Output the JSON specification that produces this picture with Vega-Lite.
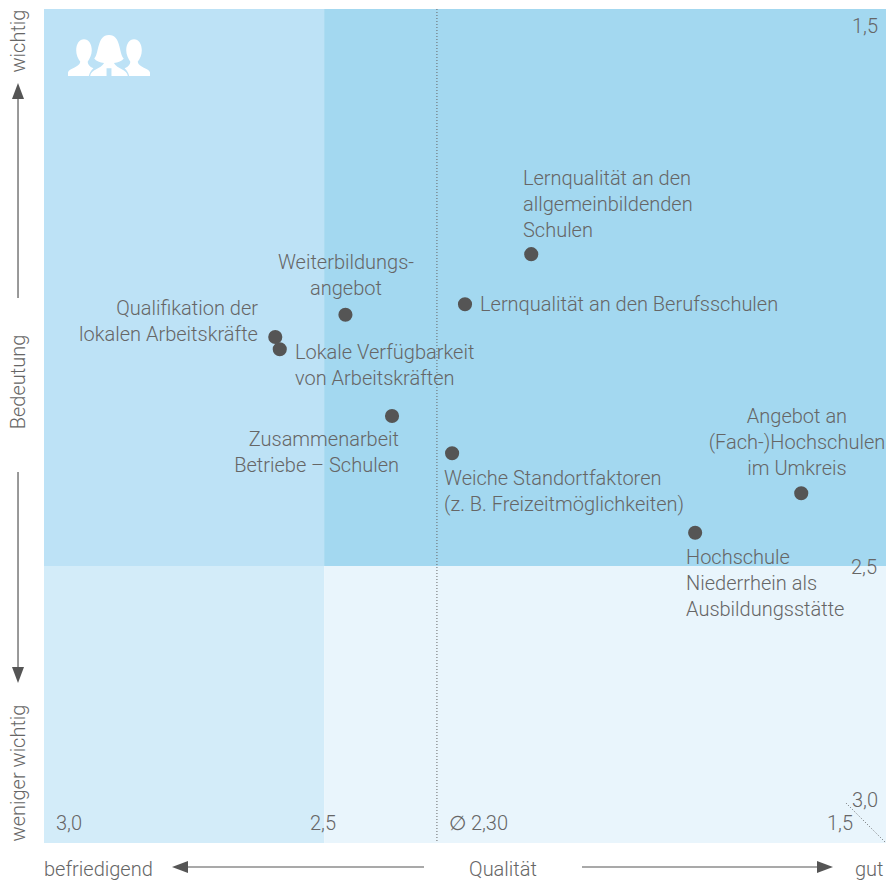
{"$schema":"https://vega.github.io/schema/vega-lite/v6.json","width":842,"height":834,"autosize":{"type":"none"},"padding":{"left":44,"top":9,"right":0,"bottom":39},"background":"white","view":{"stroke":null},
"config":{"text":{"font":"Roboto","fontWeight":300,"fontSize":20,"fill":"#666666","baseline":"alphabetic","lineHeight":26}},
"datasets":{
"zones":[{"zone":"a","x":3,"x2":2.501,"y":1.5,"y2":2.502},{"zone":"b","x":2.501,"x2":1.5,"y":1.5,"y2":2.502},{"zone":"c","x":3,"x2":2.501,"y":2.502,"y2":3},{"zone":"d","x":2.501,"x2":1.5,"y":2.502,"y2":3}],
"points":[{"x":2.132,"y":1.941},{"x":2.25,"y":2.031},{"x":2.463,"y":2.05},{"x":2.588,"y":2.09},{"x":2.58,"y":2.112},{"x":2.38,"y":2.232},{"x":2.273,"y":2.299},{"x":1.651,"y":2.371},{"x":1.84,"y":2.442}],
"left":[{"t":"Lernqualität an den\nallgemeinbildenden\nSchulen","x":2.1467,"y":1.8165},{"t":"Lernqualität an den Berufsschulen","x":2.2233,"y":2.0432},{"t":"Lokale Verfügbarkeit\nvon Arbeitskräften","x":2.5528,"y":2.1295},{"t":"Weiche Standortfaktoren\n(z. B. Freizeitmöglichkeiten)","x":2.2874,"y":2.3561},{"t":"Hochschule\nNiederrhein als\nAusbildungsstätte","x":1.8563,"y":2.4982},{"t":"3,0","x":2.9786,"y":2.9766},{"t":"2,5","x":2.5261,"y":2.9766},{"t":"∅ 2,30","x":2.2785,"y":2.9766},{"t":"befriedigend","x":3,"y":3.0594},{"t":"gut","x":1.5552,"y":3.0594}],
"right":[{"t":"Qualifikation der\nlokalen Arbeitskräfte","x":2.6188,"y":2.0504},{"t":"Zusammenarbeit\nBetriebe – Schulen","x":2.3676,"y":2.286},{"t":"1,5","x":1.5142,"y":1.5432},{"t":"2,5","x":1.516,"y":2.5162},{"t":"3,0","x":1.5142,"y":2.9353},{"t":"1,5","x":1.5588,"y":2.9766}],
"center":[{"t":"Weiterbildungs-\nangebot","x":2.462,"y":1.9676},{"t":"Angebot an\n(Fach-)Hochschulen\nim Umkreis","x":1.6586,"y":2.2446},{"t":"Qualität","x":2.1823,"y":3.0594}],
"rotated":[{"t":"wichtig","x":3.0338,"y":1.5576},{"t":"Bedeutung","x":3.0338,"y":2.1709},{"t":"weniger wichtig","x":3.0338,"y":2.8741}],
"shafts":[{"x":3.0463,"x2":3.0463,"y":2.0198,"y2":1.6475},{"x":3.0463,"x2":3.0463,"y":2.3327,"y2":2.6978},{"x":2.323,"x2":2.7577,"y":3.0432,"y2":3.0432},{"x":2.0416,"x2":1.6087,"y":3.0432,"y2":3.0432}],
"heads":[{"dir":"up","x":3.0463,"y":1.6475},{"dir":"down","x":3.0463,"y":2.6978},{"dir":"left","x":2.7577,"y":3.0432},{"dir":"right","x":1.6087,"y":3.0432}],
"dotted":[{"x":2.3,"x2":2.3,"y":1.5,"y2":3},{"x":1.5713,"x2":1.5,"y":2.9281,"y2":3}],
"icon":[{"x":2.8842,"y":1.5845}]
},
"encoding":{"x":{"field":"x","type":"quantitative","scale":{"domain":[3,1.5],"nice":false,"zero":false},"axis":null},"y":{"field":"y","type":"quantitative","scale":{"domain":[1.5,3],"reverse":true,"nice":false,"zero":false},"axis":null}},
"layer":[
{"data":{"name":"zones"},"mark":{"type":"rect","stroke":null},"encoding":{"x2":{"field":"x2"},"y2":{"field":"y2"},"color":{"field":"zone","type":"nominal","legend":null,"scale":{"domain":["a","b","c","d"],"range":["#BDE2F6","#A3D8F0","#D3ECF9","#E9F5FC"]}}}},
{"data":{"name":"dotted"},"mark":{"type":"rule","stroke":"#666666","strokeWidth":1,"strokeDash":[1,2]},"encoding":{"x2":{"field":"x2"},"y2":{"field":"y2"}}},
{"data":{"name":"shafts"},"mark":{"type":"rule","stroke":"#555555","strokeWidth":1.2},"encoding":{"x2":{"field":"x2"},"y2":{"field":"y2"}}},
{"data":{"name":"heads"},"mark":{"type":"point","filled":true,"opacity":1,"fill":"#555555","stroke":null,"size":256},"encoding":{"shape":{"field":"dir","type":"nominal","legend":null,"scale":{"domain":["up","down","left","right"],"range":["M0,-1L0.75,1L-0.75,1Z","M0,1L0.75,-1L-0.75,-1Z","M-1,0L1,-0.75L1,0.75Z","M1,0L-1,-0.75L-1,0.75Z"]}}}},
{"data":{"name":"icon"},"mark":{"type":"point","filled":true,"opacity":1,"fill":"#ffffff","stroke":null,"size":6724,"shape":"M-1,0.49L-1,0.4C-0.98,0.3 -0.72,0.28 -0.7,0.14C-0.76,0.06 -0.8,-0.03 -0.8,-0.14C-0.8,-0.3 -0.72,-0.41 -0.61,-0.41C-0.5,-0.41 -0.42,-0.3 -0.42,-0.14C-0.42,-0.03 -0.47,0.06 -0.52,0.14C-0.52,0.2 -0.48,0.26 -0.38,0.3C-0.44,0.36 -0.48,0.42 -0.49,0.49ZM-0.46,0.49C-0.44,0.32 -0.2,0.32 -0.12,0.17C-0.22,0.16 -0.32,0.12 -0.36,0.06C-0.24,-0.04 -0.3,-0.51 0,-0.51C0.3,-0.51 0.24,-0.04 0.36,0.06C0.32,0.12 0.22,0.16 0.12,0.17C0.2,0.32 0.44,0.32 0.46,0.49L0.06,0.49L0.06,0.3L-0.06,0.3L-0.06,0.49ZM1,0.49L1,0.4C0.98,0.3 0.72,0.28 0.7,0.14C0.76,0.06 0.8,-0.03 0.8,-0.14C0.8,-0.3 0.72,-0.41 0.61,-0.41C0.5,-0.41 0.42,-0.3 0.42,-0.14C0.42,-0.03 0.47,0.06 0.52,0.14C0.52,0.2 0.48,0.26 0.38,0.3C0.44,0.36 0.48,0.42 0.49,0.49Z"}},
{"data":{"name":"points"},"mark":{"type":"point","filled":true,"opacity":1,"fill":"#555555","stroke":null,"shape":"circle","size":200}},
{"data":{"name":"left"},"mark":{"type":"text","align":"left","lineBreak":"\n"},"encoding":{"text":{"field":"t"}}},
{"data":{"name":"right"},"mark":{"type":"text","align":"right","lineBreak":"\n"},"encoding":{"text":{"field":"t"}}},
{"data":{"name":"center"},"mark":{"type":"text","align":"center","lineBreak":"\n"},"encoding":{"text":{"field":"t"}}},
{"data":{"name":"rotated"},"mark":{"type":"text","align":"center","angle":270},"encoding":{"text":{"field":"t"}}}
]}
